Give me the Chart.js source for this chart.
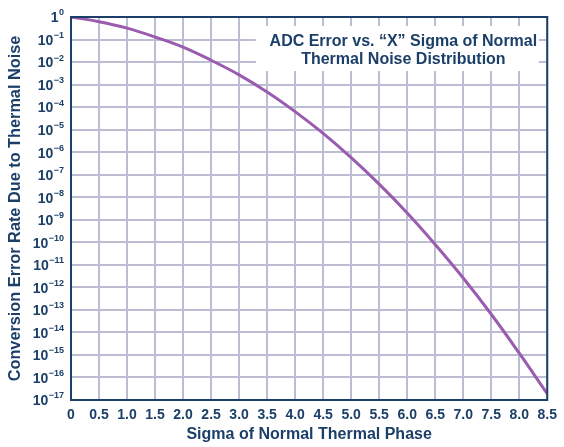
<!DOCTYPE html>
<html>
<head>
<meta charset="utf-8">
<script src="https://cdn.jsdelivr.net/npm/chart.js@4.4.1/dist/chart.umd.min.js"></script>
<style>
  html, body { margin: 0; padding: 0; background: #fff; }
  #wrap { width: 564px; height: 447px; }
</style>
</head>
<body>
<div id="wrap"><canvas id="adcChart" width="564" height="447"></canvas></div>
<script>
// sigma values (x) and the error rate (y)
const sigmaValues = [0, 0.5, 1.0, 1.5, 2.0, 2.5, 3.0, 3.5, 4.0, 4.5, 5.0, 5.5, 6.0, 6.5, 7.0, 7.5, 8.0, 8.5]
const errorRates = [1, 0.62, 0.32, 0.13, 0.046, 0.012, 0.0027, 4.7e-4, 6.3e-5, 6.8e-6, 5.7e-7,
  3.8e-8, 2.0e-9, 8.0e-11, 2.6e-12, 6.4e-14, 1.2e-15, 1.9e-17]

// exponents for the y tick labels (10^0 ... 10^-17)
const yExponents = [0, -1, -2, -3, -4, -5, -6, -7, -8, -9, -10, -11, -12, -13, -14, -15, -16, -17]

const titleLines = ['ADC Error vs. \u201CX\u201D Sigma of Normal', 'Thermal Noise Distribution']
const xTitle = 'Sigma of Normal Thermal Phase'
const yTitle = 'Conversion Error Rate Due to Thermal Noise'

const NAVY = '#1b3f68'
const GRID = '#bcbdd3'
const CURVE = '#9a5cae'
const FONT = '"Liberation Sans", Arial, Helvetica, sans-serif'

// draws y labels as 10 with a raised exponent, the frame and the title box
const extrasPlugin = {
  id: 'extras',
  beforeDatasetsDraw(chart) {
    const { ctx, scales } = chart
    // white box behind the title
    const bx1 = scales.x.getPixelForValue(3.3)
    const bx2 = scales.x.getPixelForValue(8.35)
    const by1 = scales.y.getPixelForValue(Math.pow(10, -0.4))
    const by2 = scales.y.getPixelForValue(Math.pow(10, -2.4))
    ctx.save()
    ctx.fillStyle = '#fff'
    ctx.fillRect(bx1, by1, bx2 - bx1, by2 - by1)
    ctx.fillStyle = NAVY
    ctx.font = `bold 16px ${FONT}`
    ctx.textAlign = 'center'
    ctx.textBaseline = 'middle'
    const cx = (bx1 + bx2) / 2 + 6
    ctx.fillText(titleLines[0], cx, by1 + 16)
    ctx.fillText(titleLines[1], cx, by1 + 34)
    ctx.restore()
  },
  afterDraw(chart) {
    const { ctx, chartArea: a, scales } = chart
    ctx.save()
    // frame
    ctx.strokeStyle = NAVY
    ctx.lineWidth = 2
    ctx.strokeRect(a.left, a.top, a.right - a.left, a.bottom - a.top)

    // y tick labels
    ctx.fillStyle = NAVY
    ctx.textBaseline = 'middle'
    const rightX = a.left - 7
    yExponents.forEach(e => {
      const y = scales.y.getPixelForValue(Math.pow(10, e))
      const base = e === 0 ? '1' : '10'
      const expTxt = e === 0 ? '0' : '\u2212' + Math.abs(e)
      ctx.font = `bold 9px ${FONT}`
      const ew = ctx.measureText(expTxt).width
      ctx.textAlign = 'right'
      ctx.fillText(expTxt, rightX, y - 4)
      ctx.font = `bold 14px ${FONT}`
      ctx.fillText(base, rightX - ew - 0.5, y + 1.5)
    })
    ctx.restore()
  }
}

const config = {
  type: 'line',
  data: {
    datasets: [{
      label: 'error rate',
      data: sigmaValues.map((s, i) => ({ x: s, y: errorRates[i] })),
      borderColor: CURVE,
      borderWidth: 3,
      pointRadius: 0,
      tension: 0.4,
      fill: false,
    }]
  },
  plugins: [extrasPlugin],
  options: {
    responsive: false,
    animation: false,
    layout: { padding: { left: 0, right: 14, top: 17, bottom: 3 } },
    plugins: { legend: { display: false }, tooltip: { enabled: false } },
    scales: {
      x: {
        type: 'linear',
        min: 0,
        max: 8.5,
        afterBuildTicks: s => { s.ticks = sigmaValues.map(v => ({ value: v })) },
        afterFit: s => { s.height = 44 },
        grid: { color: GRID, lineWidth: 2, drawTicks: false },
        border: { color: NAVY, width: 2 },
        ticks: {
          color: NAVY,
          padding: 7,
          maxRotation: 0,
          autoSkip: false,
          font: { family: FONT, size: 14, weight: 'bold' },
          callback: v => v === 0 ? '0' : v.toFixed(1)
        },
        title: {
          display: true,
          text: xTitle,
          color: NAVY,
          padding: 0,
          font: { family: FONT, size: 16, weight: 'bold' }
        }
      },
      y: {
        type: 'logarithmic',
        min: 1e-17,
        max: 1,
        afterBuildTicks: s => { s.ticks = yExponents.map(e => ({ value: Math.pow(10, e) })) },
        afterFit: s => { s.width = 71 },
        grid: { color: GRID, lineWidth: 2, drawTicks: false },
        border: { color: NAVY, width: 2 },
        ticks: { display: false },
        title: {
          display: true,
          text: yTitle,
          color: NAVY,
          padding: { top: 6, bottom: 0 },
          font: { family: FONT, size: 16.3, weight: 'bold' }
        }
      }
    }
  }
}

new Chart(document.getElementById('adcChart'), config)
</script>
</body>
</html>
